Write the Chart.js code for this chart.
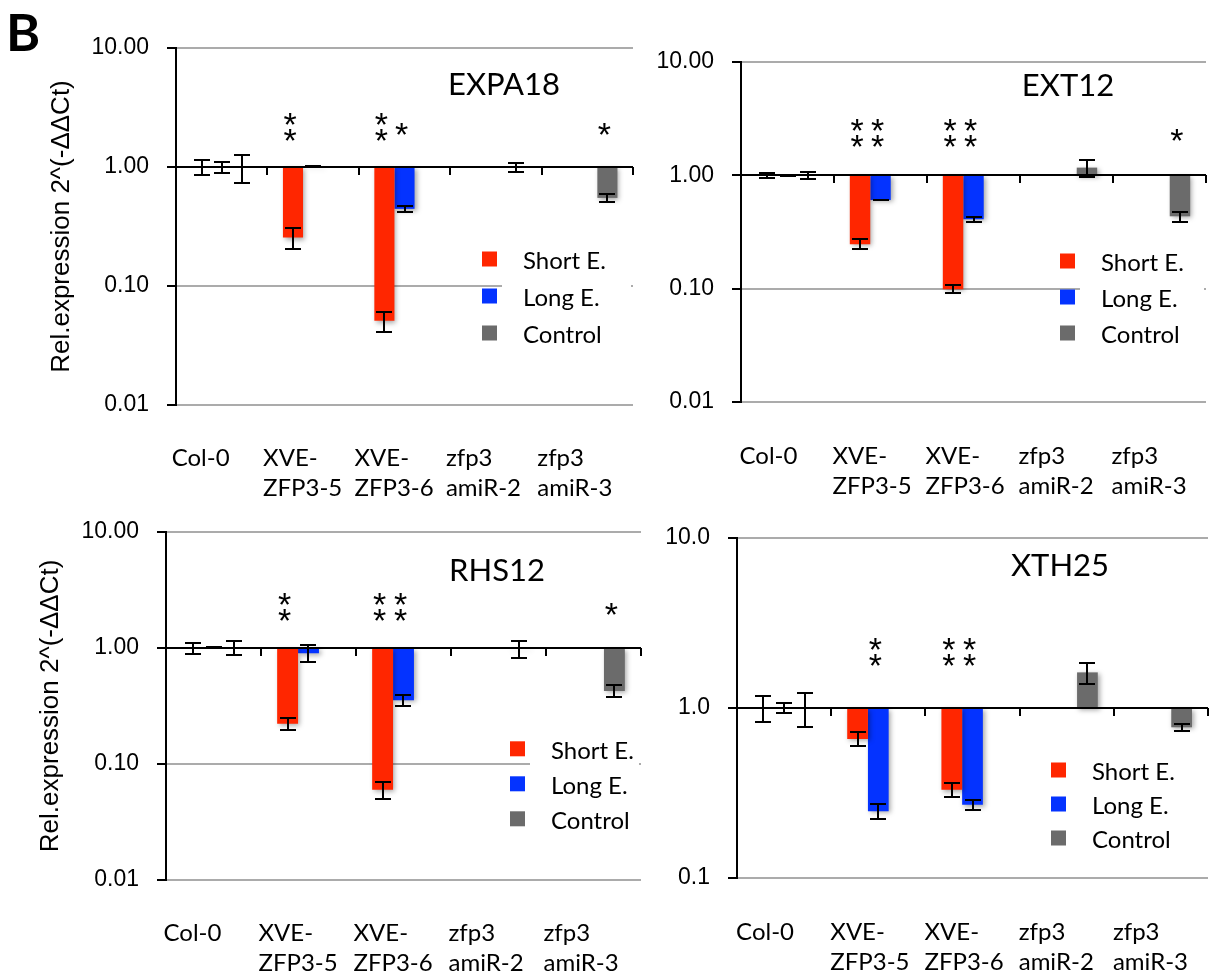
<!DOCTYPE html>
<html>
<head>
<meta charset="utf-8">
<title>Relative expression of cell wall genes</title>
<script src="https://cdn.jsdelivr.net/npm/chart.js@4.4.1/dist/chart.umd.min.js"></script>
<style>
  html, body { margin: 0; padding: 0; background: #fff; }
  body { width: 1223px; height: 977px; position: relative; overflow: hidden; }
  canvas { position: absolute; }
  #panelLetter { position: absolute; left: 6px; top: 5px; font: bold 52px Lato, sans-serif; line-height: 52px; color: #000; }
</style>
</head>
<body>
<div id="panelLetter">B</div>
<canvas id="chartExpa18" width="640" height="500" style="left:0px;top:0px"></canvas>
<canvas id="chartExt12" width="583" height="500" style="left:640px;top:0px"></canvas>
<canvas id="chartRhs12" width="642" height="477" style="left:0px;top:500px"></canvas>
<canvas id="chartXth25" width="581" height="477" style="left:642px;top:500px"></canvas>
<script>
// Genotypes (x axis) and treatments (bar series)
const genotypes = [['Col-0'], ['XVE-', 'ZFP3-5'], ['XVE-', 'ZFP3-6'], ['zfp3', 'amiR-2'], ['zfp3', 'amiR-3']];
const seriesNames = ['Short E.', 'Long E.', 'Control'];
const seriesColors = ['#ff2600', '#0433ff', '#6b6b6b'];

const decades3 = [0.01, 0.1, 1, 10];
const decades2 = [0.1, 1, 10];

// EXPA18
const expa18Short = [1.00, 0.255, 0.051, null, null];
const expa18ShortErr = [0.15, 0.05, 0.010, null, null];
const expa18Long = [1.00, 1.01, 0.445, null, null];
const expa18LongErr = [0.11, 0.01, 0.028, null, null];
const expa18Ctrl = [1.00, null, null, 1.00, 0.55];
const expa18CtrlErr = [0.27, null, null, 0.09, 0.04];
const expa18SigShort = ['', '**', '**', '', ''];
const expa18SigLong = ['', '', '*', '', ''];
const expa18SigCtrl = ['', '', '', '', '*'];

// EXT12
const ext12Short = [1.00, 0.247, 0.099, null, null];
const ext12ShortErr = [0.053, 0.025, 0.008, null, null];
const ext12Long = [1.00, 0.605, 0.41, null, null];
const ext12LongErr = [0.01, 0.005, 0.019, null, null];
const ext12Ctrl = [1.00, null, null, 1.17, 0.435];
const ext12CtrlErr = [0.075, null, null, 0.2, 0.044];
const ext12SigShort = ['', '**', '**', '', ''];
const ext12SigLong = ['', '**', '**', '', ''];
const ext12SigCtrl = ['', '', '', '', '*'];

// RHS12
const rhs12Short = [1.00, 0.222, 0.060, null, null];
const rhs12ShortErr = [0.11, 0.026, 0.010, null, null];
const rhs12Long = [1.00, 0.90, 0.354, null, null];
const rhs12LongErr = [0.01, 0.15, 0.038, null, null];
const rhs12Ctrl = [1.00, null, null, 0.99, 0.425];
const rhs12CtrlErr = [0.135, null, null, 0.165, 0.049];
const rhs12SigShort = ['', '**', '**', '', ''];
const rhs12SigLong = ['', '', '**', '', ''];
const rhs12SigCtrl = ['', '', '', '', '*'];

// XTH25
const xth25Short = [1.00, 0.657, 0.331, null, null];
const xth25ShortErr = [0.17, 0.063, 0.031, null, null];
const xth25Long = [1.00, 0.247, 0.27, null, null];
const xth25LongErr = [0.064, 0.025, 0.018, null, null];
const xth25Ctrl = [1.00, null, null, 1.62, 0.77];
const xth25CtrlErr = [0.23, null, null, 0.23, 0.04];
const xth25SigShort = ['', '', '**', '', ''];
const xth25SigLong = ['', '**', '**', '', ''];
const xth25SigCtrl = ['', '', '', '', ''];

const TICK_FONT = '"Liberation Sans", Arial, sans-serif';
const TEXT_FONT = 'Lato, "Open Sans", sans-serif';

// Draws what Chart.js has no built-in for: the 1.0 baseline with its
// category ticks, error bars, significance stars, legend box and gene name
function makeDecor(gene, values, errors, stars, look) {
    return {
        id: 'decor',
        beforeDatasetsDraw(chart) {
            const ctx = chart.ctx;
            ctx.save();
            ctx.shadowColor = 'rgba(0, 0, 0, 0.35)';
            ctx.shadowBlur = 5;
            ctx.shadowOffsetX = 2;
            ctx.shadowOffsetY = 2;
        },
        afterDatasetsDraw(chart) {
            const ctx = chart.ctx;
            ctx.restore();

            const area = chart.chartArea;
            const xs = chart.scales.x;
            const ys = chart.scales.y;
            const yOne = Math.round(ys.getPixelForValue(1));
            const step = xs.getPixelForValue(1) - xs.getPixelForValue(0);

            ctx.save();
            ctx.strokeStyle = '#000';
            ctx.lineWidth = 2;

            // baseline at 1.0 and category ticks hanging below it
            ctx.beginPath();
            ctx.moveTo(area.left, yOne);
            ctx.lineTo(area.right, yOne);
            for (let i = 0; i < genotypes.length; i++) {
                const tx = Math.round(xs.getPixelForValue(i) + step / 2);
                ctx.moveTo(tx, yOne);
                ctx.lineTo(tx, yOne + 8);
            }
            ctx.stroke();

            // error bars
            ctx.beginPath();
            errors.forEach((errs, d) => {
                const meta = chart.getDatasetMeta(d);
                errs.forEach((e, i) => {
                    const v = values[d][i];
                    if (v === null || e === null) return;
                    const bx = Math.round(meta.data[i].x);
                    const top = Math.round(ys.getPixelForValue(v + e));
                    const bot = Math.round(ys.getPixelForValue(v - e));
                    ctx.moveTo(bx, top);
                    ctx.lineTo(bx, bot);
                    ctx.moveTo(bx - 8, top);
                    ctx.lineTo(bx + 8, top);
                    ctx.moveTo(bx - 8, bot);
                    ctx.lineTo(bx + 8, bot);
                });
            });
            ctx.stroke();

            // significance stars
            ctx.fillStyle = '#000';
            ctx.font = '34px ' + TICK_FONT;
            ctx.textAlign = 'center';
            ctx.textBaseline = 'middle';
            stars.forEach((marks, d) => {
                const meta = chart.getDatasetMeta(d);
                marks.forEach((m, i) => {
                    if (!m) return;
                    const sx = meta.data[i].x - 3;
                    const base = yOne - look.starBase + 8;
                    if (m.length === 2) {
                        ctx.fillText('*', sx, base);
                        ctx.fillText('*', sx, base - 16);
                    } else {
                        ctx.fillText('*', sx, base - 6);
                    }
                });
            });

            // legend
            const lx = area.right - look.legendRight;
            const ly = area.top + look.legendTop;
            ctx.fillStyle = '#fff';
            ctx.fillRect(lx + 20, ly - 22, area.right - 2 - (lx + 20), look.legendGap * 2 + 44);
            ctx.font = '24px ' + TEXT_FONT;
            ctx.textAlign = 'left';
            seriesNames.forEach((name, k) => {
                const cy = ly + k * look.legendGap;
                ctx.fillStyle = seriesColors[k];
                ctx.fillRect(lx, cy - 7.5, 15, 15);
                ctx.fillStyle = '#000';
                ctx.fillText(name, lx + 41, cy + 2);
            });

            // gene name
            ctx.font = '31px ' + TEXT_FONT;
            ctx.textAlign = 'center';
            ctx.fillText(gene, area.left + look.titleX, area.top + look.titleY);
            ctx.restore();
        }
    };
}

function drawPanel(canvasId, gene, values, errors, stars, look) {
    return new Chart(document.getElementById(canvasId), {
        type: 'bar',
        data: {
            labels: genotypes,
            datasets: seriesNames.map((name, k) => ({
                label: name,
                data: values[k].map(v => (v === null ? null : [1, v])),
                backgroundColor: seriesColors[k],
                borderWidth: 0,
                categoryPercentage: 0.66,
                barPercentage: 1.0
            }))
        },
        options: {
            responsive: false,
            animation: false,
            devicePixelRatio: 1,
            layout: { padding: { left: 0, top: look.padTop, right: look.padRight, bottom: 0 } },
            plugins: {
                legend: { display: false },
                tooltip: { enabled: false }
            },
            scales: {
                x: {
                    grid: { display: false },
                    border: { display: false },
                    ticks: {
                        color: '#000',
                        font: { family: TEXT_FONT, size: 24, lineHeight: 1.25 },
                        align: 'start',
                        labelOffset: look.labelShift,
                        padding: look.labelPad,
                        maxRotation: 0,
                        autoSkip: false
                    },
                    afterFit(scale) {
                        scale.height = look.axisHeight;
                        scale.paddingLeft = 0;
                        scale.paddingRight = 0;
                    }
                },
                y: {
                    type: 'logarithmic',
                    min: look.yTicks[0],
                    max: look.yTicks[look.yTicks.length - 1],
                    afterBuildTicks(scale) {
                        scale.ticks = look.yTicks.map(v => ({ value: v }));
                    },
                    afterFit(scale) {
                        scale.width = look.axisWidth;
                    },
                    border: { color: '#000', width: 2 },
                    grid: {
                        color: c => (c.tick && c.tick.value === 1 ? '#000' : '#ababab'),
                        lineWidth: 2,
                        tickColor: '#000',
                        tickLength: 9,
                        tickWidth: 2
                    },
                    ticks: {
                        color: '#000',
                        padding: 18,
                        font: { family: TICK_FONT, size: 23 },
                        callback: v => Number(v).toFixed(look.decimals)
                    },
                    title: {
                        display: look.yTitle,
                        text: 'Rel.expression 2^(-ΔΔCt)',
                        color: '#000',
                        font: { family: TICK_FONT, size: 26 },
                        padding: { top: look.titlePad, bottom: 0 }
                    }
                }
            }
        },
        plugins: [makeDecor(gene, values, errors, stars, look)]
    });
}

drawPanel('chartExpa18', 'EXPA18',
    [expa18Short, expa18Long, expa18Ctrl],
    [expa18ShortErr, expa18LongErr, expa18CtrlErr],
    [expa18SigShort, expa18SigLong, expa18SigCtrl],
    { padTop: 48, padRight: 7, axisWidth: 176, axisHeight: 95, yTicks: decades3, decimals: 2,
      yTitle: true, titlePad: 46, labelShift: -50, labelPad: 30,
      titleX: 328, titleY: 37, legendRight: 151, legendTop: 211, legendGap: 37, starBase: 32 });

drawPanel('chartExt12', 'EXT12',
    [ext12Short, ext12Long, ext12Ctrl],
    [ext12ShortErr, ext12LongErr, ext12CtrlErr],
    [ext12SigShort, ext12SigLong, ext12SigCtrl],
    { padTop: 62, padRight: 17, axisWidth: 101, axisHeight: 98, yTicks: decades3, decimals: 2,
      yTitle: false, titlePad: 0, labelShift: -48, labelPad: 31,
      titleX: 327, titleY: 24, legendRight: 146, legendTop: 199, legendGap: 36, starBase: 34 });

drawPanel('chartRhs12', 'RHS12',
    [rhs12Short, rhs12Long, rhs12Ctrl],
    [rhs12ShortErr, rhs12LongErr, rhs12CtrlErr],
    [rhs12SigShort, rhs12SigLong, rhs12SigCtrl],
    { padTop: 24, padRight: 1, axisWidth: 166, axisHeight: 97, yTicks: decades3, decimals: 2,
      yTitle: true, titlePad: 35, labelShift: -50, labelPad: 30,
      titleX: 331, titleY: 39, legendRight: 131, legendTop: 217, legendGap: 35, starBase: 33 });

drawPanel('chartXth25', 'XTH25',
    [xth25Short, xth25Long, xth25Ctrl],
    [xth25ShortErr, xth25LongErr, xth25CtrlErr],
    [xth25SigShort, xth25SigLong, xth25SigCtrl],
    { padTop: 38, padRight: 15, axisWidth: 95, axisHeight: 99, yTicks: decades2, decimals: 1,
      yTitle: false, titlePad: 0, labelShift: -48, labelPad: 31,
      titleX: 323, titleY: 28, legendRight: 157, legendTop: 232, legendGap: 34, starBase: 48 });
</script>
</body>
</html>
